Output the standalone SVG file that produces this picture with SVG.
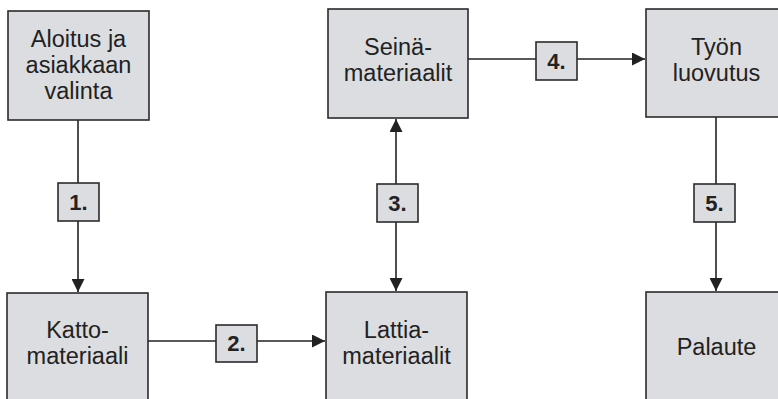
<svg xmlns="http://www.w3.org/2000/svg" width="778" height="399" viewBox="0 0 778 399">
<style>
.box{fill:#dcdde0;stroke:#2b2b2b;stroke-width:1.6}
.lbl{fill:#dcdde0;stroke:#2b2b2b;stroke-width:1.6}
.t{font-family:"Liberation Sans",Arial,sans-serif;font-size:23.5px;fill:#222;text-anchor:middle}
.n{font-family:"Liberation Sans",Arial,sans-serif;font-size:22px;font-weight:bold;fill:#222;text-anchor:middle}
.ln{stroke:#222;stroke-width:1.6;fill:none}
</style>
<defs>
<marker id="ah" markerUnits="userSpaceOnUse" markerWidth="13" markerHeight="13" viewBox="0 0 12 12" refX="12" refY="6" orient="auto-start-reverse">
<path d="M0,0 L12,6 L0,12 z" fill="#222"/>
</marker>
</defs>
<g id="connectors">
<line class="ln" x1="78" y1="120" x2="78" y2="292" marker-end="url(#ah)"/>
<line class="ln" x1="148" y1="341" x2="325" y2="341" marker-end="url(#ah)"/>
<line class="ln" x1="396" y1="119" x2="396" y2="291" marker-start="url(#ah)" marker-end="url(#ah)"/>
<line class="ln" x1="468" y1="59" x2="645" y2="59" marker-end="url(#ah)"/>
<line class="ln" x1="716" y1="117" x2="716" y2="291" marker-end="url(#ah)"/>
<g id="label1"><rect class="lbl" x="58" y="183" width="41" height="38"/><text class="n" x="78.5" y="210">1.</text></g>
<g id="label2"><rect class="lbl" x="216" y="325" width="41" height="37"/><text class="n" x="236.5" y="351">2.</text></g>
<g id="label3"><rect class="lbl" x="377" y="184" width="41" height="38"/><text class="n" x="397.5" y="211">3.</text></g>
<g id="label4"><rect class="lbl" x="536" y="42" width="41" height="38"/><text class="n" x="556.5" y="69">4.</text></g>
<g id="label5"><rect class="lbl" x="694" y="184" width="41" height="38"/><text class="n" x="714.5" y="211">5.</text></g>
</g>
<g id="aloitus"><rect class="box" x="8" y="11" width="141" height="109"/>
<text class="t" x="78.5" y="47">Aloitus ja</text><text class="t" x="78.5" y="73">asiakkaan</text><text class="t" x="78.5" y="99">valinta</text></g>
<g id="katto"><rect class="box" x="7" y="293" width="141" height="112"/>
<text class="t" x="77.5" y="338">Katto-</text><text class="t" x="77.5" y="364">materiaali</text></g>
<g id="seina"><rect class="box" x="328" y="9" width="140" height="109"/>
<text class="t" x="398" y="55">Seinä-</text><text class="t" x="398" y="81">materiaalit</text></g>
<g id="lattia"><rect class="box" x="326" y="292" width="141" height="112"/>
<text class="t" x="396.5" y="338">Lattia-</text><text class="t" x="396.5" y="364">materiaalit</text></g>
<g id="tyon"><rect class="box" x="646" y="9" width="141" height="108"/>
<text class="t" x="716.5" y="55">Työn</text><text class="t" x="716.5" y="81">luovutus</text></g>
<g id="palaute"><rect class="box" x="646" y="292" width="141" height="112"/>
<text class="t" x="716.5" y="355">Palaute</text></g>
</svg>
